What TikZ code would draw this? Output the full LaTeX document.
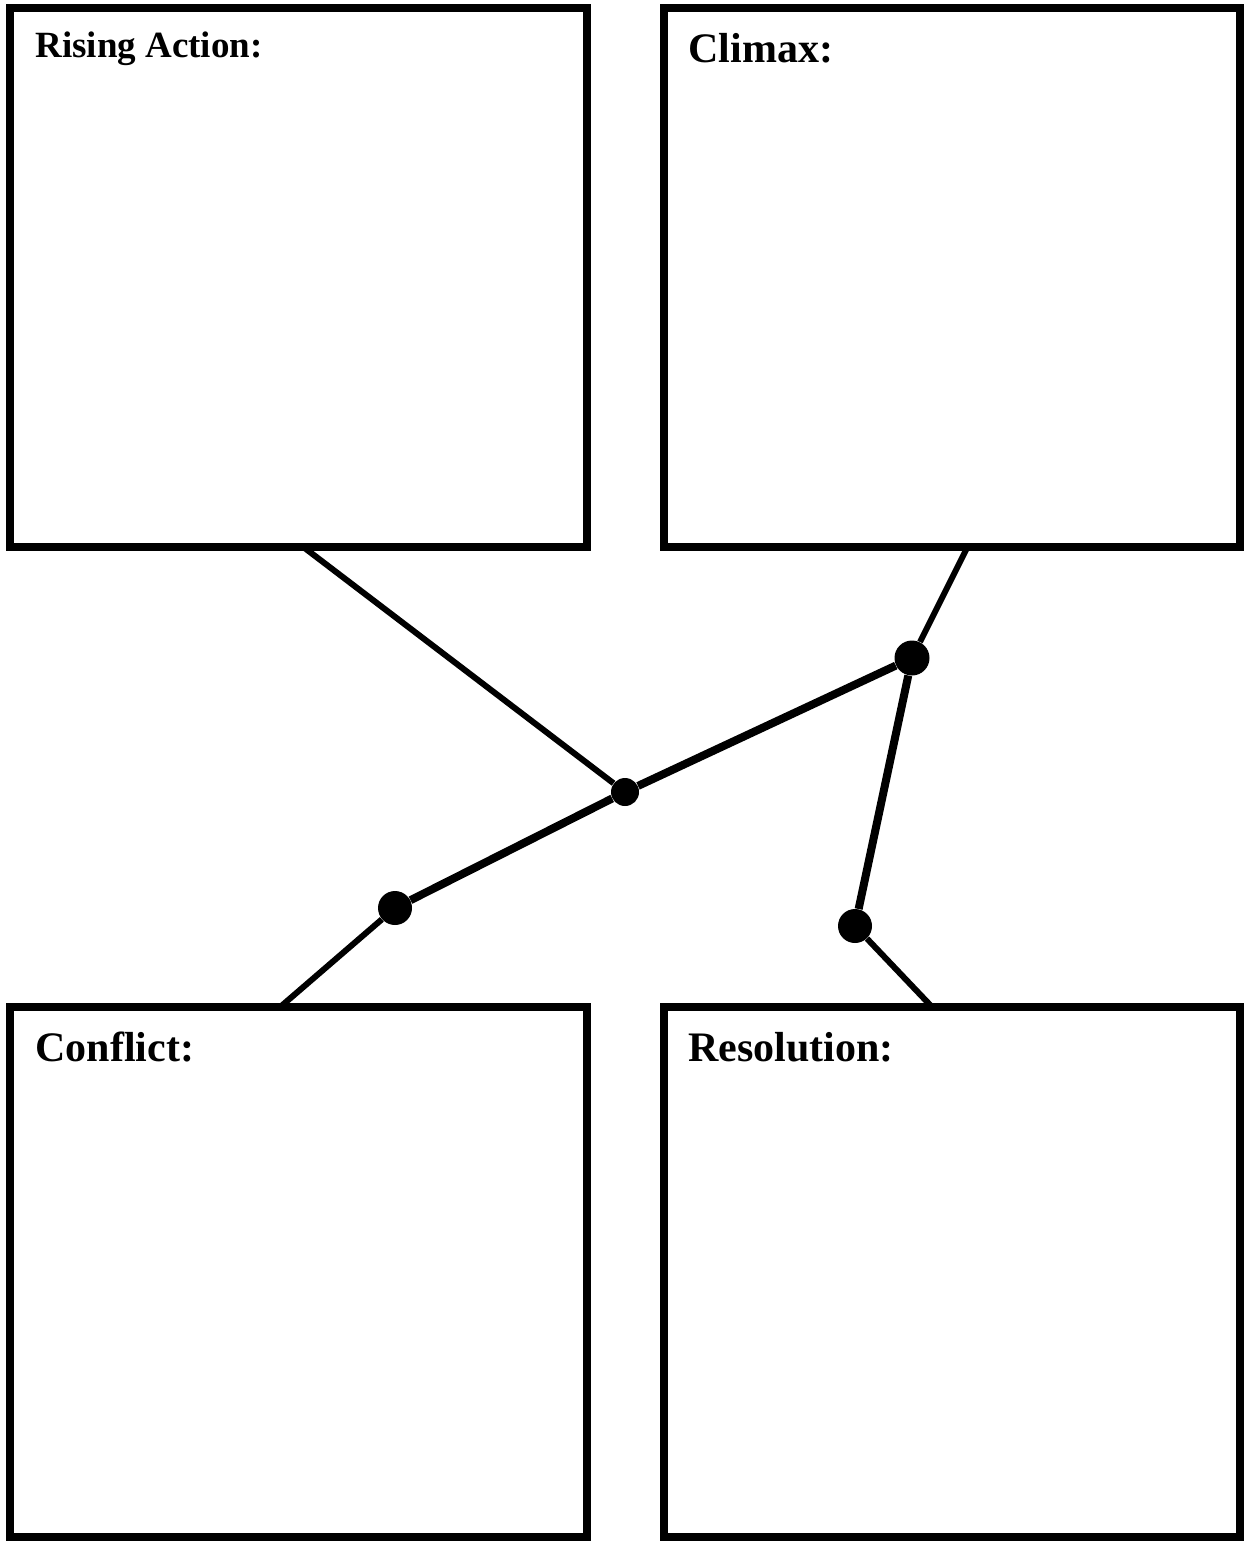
\documentclass[tikz,border=0pt]{standalone}
\usepackage{fontspec}
\setmainfont{Liberation Serif}
\usetikzlibrary{calc}

\begin{document}
\begin{tikzpicture}[x=0.5pt, y=-0.5pt,
		panel/.style={draw, line width=4.3pt, inner sep=0pt, minimum width=288.5pt},
		title/.style={anchor=base west, inner sep=0pt, font=\bfseries\fontsize{21}{24}\selectfont},
		dot/.style={circle, fill=black, inner sep=0pt, minimum size=17pt},
		thinline/.style={line width=3pt},
		thickline/.style={line width=4pt}]
	
	\useasboundingbox (0,0) rectangle (1248,1543);
	
	% ---------- The four story boxes ----------
	\node[panel, minimum height=269.5pt] (rising)  at (298.5,277.5) {};
	\node[panel, minimum height=269.5pt, minimum width=288pt] (climax) at (952,277.5) {};
	\node[panel, minimum height=265pt] (conflict)  at (298.5,1272) {};
	\node[panel, minimum height=265pt, minimum width=288pt] (resol) at (952,1272) {};
	
	% ---------- Box titles ----------
	\node[title, font=\bfseries\fontsize{18.5}{22}\selectfont] (risingtxt) at (35,57) {Rising Action:};
	\node[title] (climaxtxt)   at (688,62)   {Climax:};
	\node[title] (conflicttxt) at (35,1061)  {Conflict:};
	\node[title] (resoltxt)    at (688,1061) {Resolution:};
	
	% ---------- Points on the plot line ----------
	\node[dot] (pconf) at (395,908) {};
	\node[dot, minimum size=14pt] (pmid) at (625,792) {};
	\node[dot, minimum size=17.5pt] (ptop) at (912,658) {};
	\node[dot] (pres) at (855,926) {};
	
	% where the leader lines meet the boxes
	\coordinate (risingfoot)   at (302,546);
	\coordinate (climaxfoot)   at (968,546);
	\coordinate (conflictfoot) at (279,1008);
	\coordinate (resolfoot)    at (933,1008);
	
	% ---------- Plot line ----------
	\draw[thickline] (pconf) -- (pmid) -- (ptop);
	\draw[thickline] (ptop) -- (pres);
	
	% ---------- Leader lines ----------
	\draw[thinline] (risingfoot) -- (pmid);
	\draw[thinline] (climaxfoot) -- (ptop);
	\draw[thinline] (conflictfoot) -- (pconf);
	\draw[thinline] (pres) -- (resolfoot);
	
\end{tikzpicture}
\end{document}
